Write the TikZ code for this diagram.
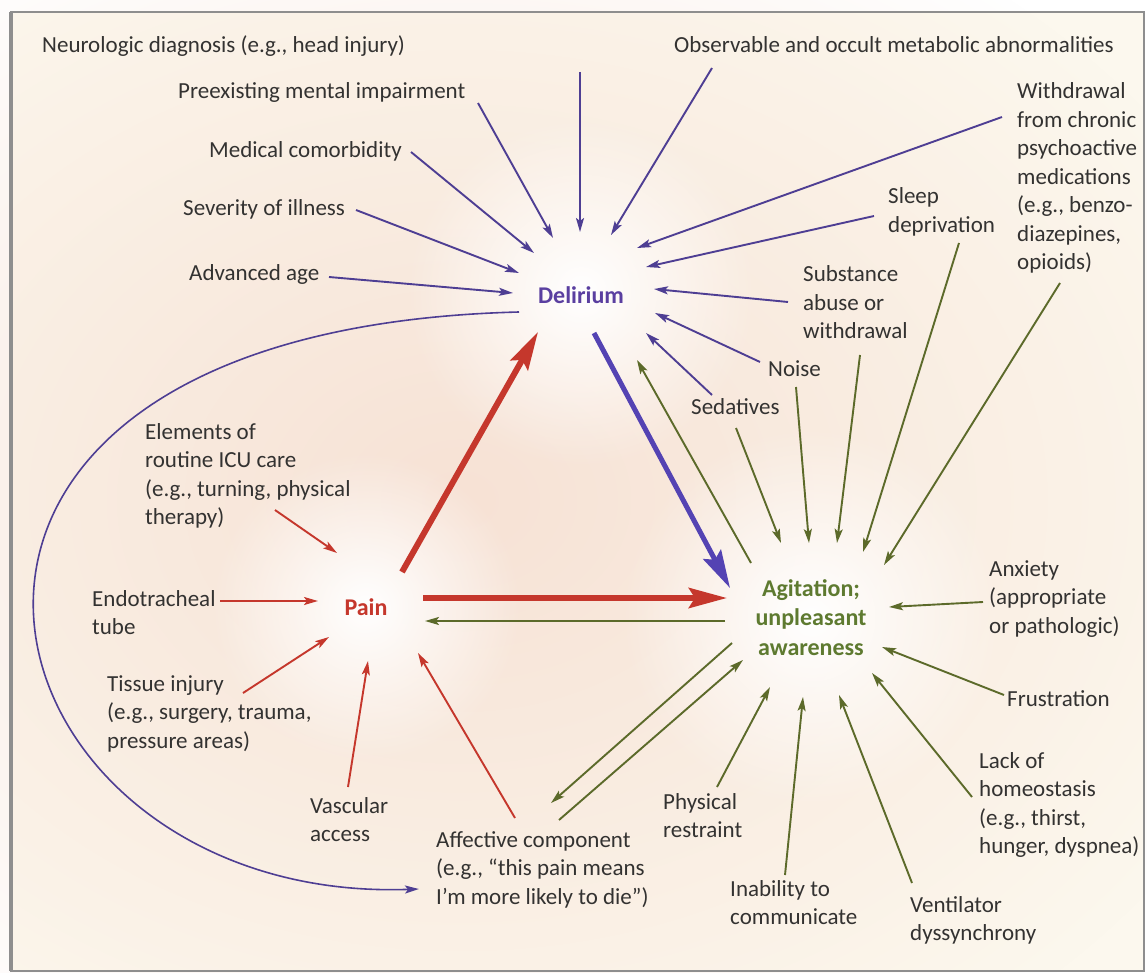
\documentclass[tikz,border=0pt]{standalone}
\usepackage{fontspec}
\setmainfont{Carlito}
\usetikzlibrary{arrows.meta,fadings}
\definecolor{bgc}{HTML}{FCF8EE}
\definecolor{peach}{HTML}{F7E2D5}
\definecolor{framec}{HTML}{8E8E8E}
\definecolor{txt}{HTML}{333231}
\definecolor{pur}{HTML}{4E3E93}
\definecolor{purT}{HTML}{5A3FA0}
\definecolor{purK}{HTML}{5443B3}
\definecolor{redA}{HTML}{C5372C}
\definecolor{grnA}{HTML}{5C6A2A}
\definecolor{grnT}{HTML}{5E7A30}
\tikzfading[name=glowfade, inner color=transparent!0, outer color=transparent!100]
\newcommand{\mlL}[1]{\begin{tabular}[t]{@{}l@{}}#1\end{tabular}}
\newcommand{\mlC}[1]{\begin{tabular}[t]{@{}c@{}}#1\end{tabular}}
\begin{document}
\begin{tikzpicture}[x=1pt,y=-1pt,
  lbl/.style={anchor=base west, inner sep=0pt, text=txt, font=\fontsize{23}{28.5}\selectfont},
  hub/.style={anchor=base, inner sep=0pt, font=\bfseries\fontsize{24}{29.5}\selectfont},
  thinarr/.style={line width=1.9pt, -{Stealth[length=14pt,width=8pt,inset=3pt]}},
  thickarr/.style={line width=6pt, -{Stealth[length=38pt,width=20pt,inset=6pt]}},
  parr/.style={thinarr, draw=pur},
  rarr/.style={thinarr, draw=redA},
  garr/.style={thinarr, draw=grnA},
]
\useasboundingbox (0,0) rectangle (1147,973);
\fill[white] (0,0) rectangle (1147,973);
\fill[bgc] (11,12) rectangle (1144,971);
% tints and glows
\fill[peach, path fading=glowfade] (460,500) ellipse [x radius=860pt, y radius=660pt];
\fill[white, path fading=glowfade] (581,292) circle (175pt);
\fill[white, path fading=glowfade] (366,607) circle (155pt);
\fill[white, path fading=glowfade] (811,617) circle (190pt);
\draw[framec, line width=2.5pt] (11,12) rectangle (1144,971);
\draw[framec, line width=4pt] (11,12) -- (11,971);

% hubs
\node[hub, text=purT] (del) at (581,303) {Delirium};
\node[hub, text=redA] (pain) at (366,615) {Pain};
\node[hub, text=grnT] (agit) at (811,596) {\mlC{Agitation;\\unpleasant\\awareness}};

% labels
\node[lbl] (neuro) at (42,53) {Neurologic diagnosis (e.g., head injury)};
\node[lbl] (preex) at (178,99) {Preexisting mental impairment};
\node[lbl] (medco) at (209,158) {Medical comorbidity};
\node[lbl] (sev) at (183,216) {Severity of illness};
\node[lbl] (age) at (189,281) {Advanced age};
\node[lbl] (obs) at (674,53) {Observable and occult metabolic abnormalities};
\node[lbl] (withd) at (1017,99) {\mlL{Withdrawal\\from chronic\\psychoactive\\medications\\(e.g., benzo-\\diazepines,\\opioids)}};
\node[lbl] (sleep) at (888,204) {\mlL{Sleep\\deprivation}};
\node[lbl] (subst) at (803,282) {\mlL{Substance\\abuse or\\withdrawal}};
\node[lbl] (noise) at (768,376) {Noise};
\node[lbl] (sed) at (691,414) {Sedatives};
\node[lbl] (elem) at (145,439) {\mlL{Elements of\\routine ICU care\\(e.g., turning, physical\\therapy)}};
\node[lbl] (endo) at (92,606) {\mlL{Endotracheal\\tube}};
\node[lbl] (tissue) at (107,691) {\mlL{Tissue injury\\(e.g., surgery, trauma,\\pressure areas)}};
\node[lbl] (vasc) at (310,813) {\mlL{Vascular\\access}};
\node[lbl] (affect) at (436,847) {\mlL{Affective component\\(e.g., “this pain means\\I’m more likely to die”)}};
\node[lbl] (phys) at (663,809) {\mlL{Physical\\restraint}};
\node[lbl] (inab) at (730,896) {\mlL{Inability to\\communicate}};
\node[lbl] (vent) at (910,912) {\mlL{Ventilator\\dyssynchrony}};
\node[lbl] (lack) at (979,768) {\mlL{Lack of\\homeostasis\\(e.g., thirst,\\hunger, dyspnea)}};
\node[lbl] (frust) at (1007,706) {Frustration};
\node[lbl] (anx) at (989,576) {\mlL{Anxiety\\(appropriate\\or pathologic)}};

% coordinates: inputs to Delirium
\coordinate (preex-s) at (478,103); \coordinate (preex-e) at (553,238);
\coordinate (top-s) at (580,72);    \coordinate (top-e) at (580,232);
\coordinate (medco-s) at (411,152); \coordinate (medco-e) at (534,253);
\coordinate (sev-s) at (356,210);   \coordinate (sev-e) at (519,273);
\coordinate (age-s) at (329,277);   \coordinate (age-e) at (513,293);
\coordinate (obs-s) at (712,68);    \coordinate (obs-e) at (611,235);
\coordinate (withd-s) at (1002,117);\coordinate (withd-e) at (637,248);
\coordinate (sleep-s) at (874,216); \coordinate (sleep-e) at (646,267);
\coordinate (subst-s) at (788,302); \coordinate (subst-e) at (654,289);
\coordinate (noise-s) at (760,362); \coordinate (noise-e) at (655,313);
\coordinate (sed-s) at (712,395);   \coordinate (sed-e) at (646,333);
% triangle
\coordinate (del-o) at (594,333);   \coordinate (agit-i) at (730,588);
\coordinate (pain-u) at (402,572);  \coordinate (del-i) at (538,332);
\coordinate (pain-r) at (423,598);  \coordinate (agit-l) at (727,598);
\coordinate (agit-l2) at (725,621); \coordinate (pain-r2) at (425,621);
\coordinate (agit-u) at (751,563);  \coordinate (del-g) at (637,360);
% inputs to Agitation
\coordinate (sed2-s) at (736,428);  \coordinate (sed2-e) at (781,543);
\coordinate (noise2-s) at (796,387);\coordinate (noise2-e) at (809,543);
\coordinate (subst2-s) at (860,355);\coordinate (subst2-e) at (837,543);
\coordinate (sleep2-s) at (959,243);\coordinate (sleep2-e) at (863,552);
\coordinate (withd2-s) at (1060,283);\coordinate (withd2-e) at (884,565);
\coordinate (anx-s) at (983,602);   \coordinate (anx-e) at (889,607);
\coordinate (frust-s) at (1004,695);\coordinate (frust-e) at (882,647);
\coordinate (lack-s) at (972,797);  \coordinate (lack-e) at (872,673);
\coordinate (vent-s) at (912,883);  \coordinate (vent-e) at (839,695);
\coordinate (inab-s) at (785,875);  \coordinate (inab-e) at (803,697);
\coordinate (phys-s) at (717,787);  \coordinate (phys-e) at (770,687);
\coordinate (ag2af-s) at (732,643); \coordinate (ag2af-e) at (551,803);
\coordinate (af2ag-s) at (559,820); \coordinate (af2ag-e) at (743,660);
% inputs to Pain
\coordinate (elem-s) at (275,510);  \coordinate (elem-e) at (337,553);
\coordinate (endo-s) at (220,601);  \coordinate (endo-e) at (318,601);
\coordinate (tissue-s) at (243,693);\coordinate (tissue-e) at (329,637);
\coordinate (vasc-s) at (348,787);  \coordinate (vasc-e) at (368,661);
\coordinate (affect-s) at (515,818);\coordinate (affect-e) at (418,653);
% curve
\coordinate (del-c) at (519,312);   \coordinate (affect-c) at (419,889);

% purple arrows
\foreach \n in {preex,top,medco,sev,age,obs,withd,sleep,subst,noise,sed}
  \draw[parr] (\n-s) -- (\n-e);
\draw[pur, line width=1.6pt, -{Stealth[length=14pt,width=8pt,inset=3pt]}]
  (del-c) .. controls (-190,330) and (-30,905) .. (affect-c);
% green arrows
\foreach \n in {sed2,noise2,subst2,sleep2,withd2,anx,frust,lack,vent,inab,phys,ag2af,af2ag}
  \draw[garr] (\n-s) -- (\n-e);
\draw[garr] (agit-l2) -- (pain-r2);
\draw[garr] (agit-u) -- (del-g);
% red arrows
\foreach \n in {elem,endo,tissue,vasc,affect}
  \draw[rarr] (\n-s) -- (\n-e);
% thick arrows
\draw[thickarr, draw=redA, line width=6pt] (pain-u) -- (del-i);
\draw[thickarr, draw=redA, line width=6pt] (pain-r) -- (agit-l);
\draw[thickarr, draw=purK, line width=5pt] (del-o) -- (agit-i);
\end{tikzpicture}
\end{document}
